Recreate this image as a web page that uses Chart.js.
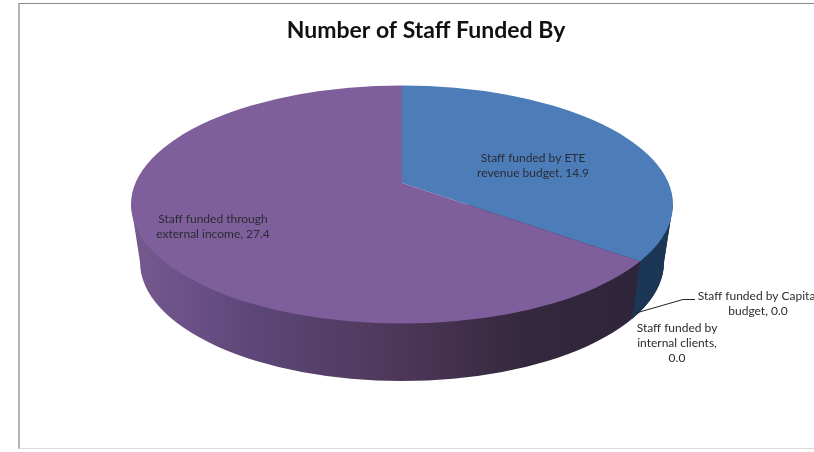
<!DOCTYPE html>
<html>
<head>
<meta charset="utf-8">
<title>Number of Staff Funded By</title>
<script src="https://cdn.jsdelivr.net/npm/chart.js@4/dist/chart.umd.min.js"></script>
<style>
  html, body { margin: 0; padding: 0; background: #fff; overflow: hidden; }
  #wrap { position: relative; width: 814px; height: 452px; }
  #frame {
    position: absolute; left: 18px; top: 3px; width: 800px; height: 444px;
    border-top: 1px solid #8a8a8a; border-left: 2px solid #b4b4b4; border-bottom: 1px solid #dcdcdc;
  }
  canvas { position: absolute; left: 0; top: 0; }
</style>
</head>
<body>
<div id="wrap">
  <div id="frame"></div>
  <canvas id="staffPie" width="814" height="452"></canvas>
</div>
<script>
const chartTitle = 'Number of Staff Funded By';
const categories = [
  'Staff funded by ETE revenue budget',
  'Staff funded by Capital budget',
  'Staff funded by internal clients',
  'Staff funded through external income'
];
const staffCounts = [14.9, 0.0, 0.0, 27.4];
const sliceColors = ['#4c7db9', '#c0504d', '#9bbb59', '#7e5f9b'];

// top face and base of the tilted disc
const topFace = { cx: 402, cy: 204.5, rx: 271, ry: 119 };
const baseFace = { cx: 402, cy: 262, rx: 262, ry: 119 };
const apex = { x: 402, y: 183 };
const tilt = 0.44;

const labelFont = '12px Lato';
const labelLayout = [
  { x: 533, y: 158, wrap: 125 },
  { x: 758, y: 296, wrap: 140 },
  { x: 677, y: 328, wrap: 90 },
  { x: 213, y: 219, wrap: 130 }
];

function wrapText(ctx, text, maxWidth) {
  const lines = [];
  let line = '';
  text.split(' ').forEach(word => {
    const next = line ? line + ' ' + word : word;
    if (line && ctx.measureText(next).width > maxWidth) {
      lines.push(line);
      line = word;
    } else {
      line = next;
    }
  });
  lines.push(line);
  return lines;
}

// where a slice edge leaving the apex meets the rim of the top face
function rimPoint(angle) {
  const dx = Math.cos(angle) / topFace.rx;
  const dy = tilt * Math.sin(angle) / topFace.ry;
  const oy = (apex.y - topFace.cy) / topFace.ry;
  const a = dx * dx + dy * dy;
  const b = 2 * oy * dy;
  const c = oy * oy - 1;
  const t = (-b + Math.sqrt(b * b - 4 * a * c)) / (2 * a);
  return { x: apex.x + t * Math.cos(angle), y: apex.y + t * tilt * Math.sin(angle) };
}

function wallPath(ctx) {
  ctx.beginPath();
  ctx.moveTo(topFace.cx - topFace.rx, topFace.cy);
  ctx.lineTo(baseFace.cx - baseFace.rx, baseFace.cy);
  ctx.ellipse(baseFace.cx, baseFace.cy, baseFace.rx, baseFace.ry, 0, Math.PI, 0, true);
  ctx.lineTo(topFace.cx + topFace.rx, topFace.cy);
  ctx.closePath();
}

const pieWalls = {
  id: 'pieWalls',
  beforeDatasetsDraw(chart) {
    const ctx = chart.ctx;
    const arcs = chart.getDatasetMeta(0).data;
    const top = rimPoint(arcs[0].endAngle);
    const bottom = {
      x: baseFace.cx + (top.x - topFace.cx) * baseFace.rx / topFace.rx,
      y: top.y + baseFace.cy - topFace.cy
    };

    const grad = ctx.createLinearGradient(topFace.cx - topFace.rx, 0, top.x, 0);
    grad.addColorStop(0, '#75598f');
    grad.addColorStop(0.12, '#6a5086');
    grad.addColorStop(0.25, '#5c4676');
    grad.addColorStop(0.45, '#523c62');
    grad.addColorStop(0.6, '#463251');
    grad.addColorStop(0.78, '#33283d');
    grad.addColorStop(1, '#2f253a');
    ctx.save();
    wallPath(ctx);
    ctx.fillStyle = grad;
    ctx.fill();

    // dark blue side of the first slice, to the right of its edge
    ctx.beginPath();
    ctx.moveTo(top.x, top.y);
    ctx.lineTo(bottom.x, bottom.y);
    ctx.lineTo(bottom.x, chart.height);
    ctx.lineTo(chart.width, chart.height);
    ctx.lineTo(chart.width, 0);
    ctx.lineTo(top.x, 0);
    ctx.closePath();
    ctx.clip();
    wallPath(ctx);
    ctx.fillStyle = '#1c3655';
    ctx.fill();
    ctx.restore();
  }
};

// the arcs come from Chart.js; they are drawn oversized through a flattening
// transform and trimmed to the top face
const tiltedPie = {
  id: 'tiltedPie',
  beforeDatasetDraw(chart, args) {
    const ctx = chart.ctx;
    const arc = args.meta.data[0];
    const k = 500 / arc.outerRadius;
    ctx.save();
    ctx.beginPath();
    ctx.ellipse(topFace.cx, topFace.cy, topFace.rx, topFace.ry, 0, 0, Math.PI * 2);
    ctx.clip();
    ctx.translate(apex.x, apex.y);
    ctx.scale(k, k * tilt);
    ctx.translate(-arc.x, -arc.y);
  },
  afterDatasetDraw(chart) {
    chart.ctx.restore();
  }
};

const sliceLabels = {
  id: 'sliceLabels',
  afterDatasetsDraw(chart) {
    const ctx = chart.ctx;
    ctx.save();

    // leader line for the Capital label
    ctx.strokeStyle = '#222';
    ctx.lineWidth = 1;
    ctx.beginPath();
    ctx.moveTo(636, 313);
    ctx.lineTo(683, 299.5);
    ctx.lineTo(695, 299.5);
    ctx.stroke();

    ctx.font = labelFont;
    ctx.fillStyle = '#2a2c34';
    ctx.textAlign = 'center';
    ctx.textBaseline = 'middle';
    categories.forEach((name, i) => {
      const text = name + ', ' + staffCounts[i].toFixed(1);
      const pos = labelLayout[i];
      wrapText(ctx, text, pos.wrap).forEach((line, n) => {
        ctx.fillText(line, pos.x, pos.y + n * 15.3);
      });
    });
    ctx.restore();
  }
};

new Chart(document.getElementById('staffPie').getContext('2d'), {
  type: 'pie',
  data: {
    labels: categories,
    datasets: [{
      data: staffCounts,
      backgroundColor: sliceColors,
      borderWidth: 0,
      clip: false
    }]
  },
  options: {
    responsive: false,
    animation: false,
    events: [],
    layout: { padding: { left: 38 } },
    plugins: {
      legend: { display: false },
      tooltip: { enabled: false },
      title: {
        display: true,
        text: chartTitle,
        color: '#111',
        font: { family: 'Lato', size: 23, weight: 'bold' },
        padding: { top: 17, bottom: 10 }
      }
    }
  },
  plugins: [pieWalls, tiltedPie, sliceLabels]
});
</script>
</body>
</html>
